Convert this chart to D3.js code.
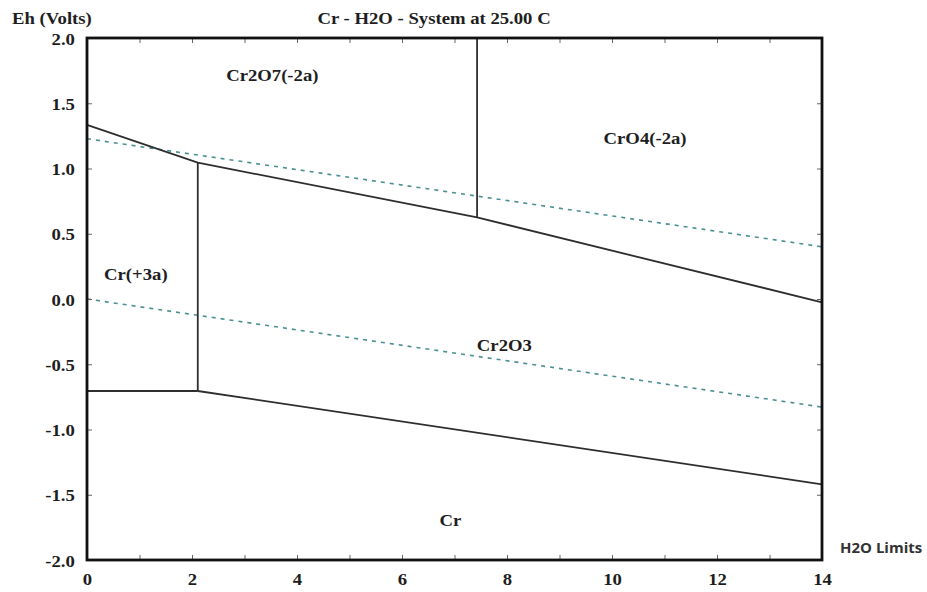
<!DOCTYPE html>
<html><head><meta charset="utf-8">
<script src="https://cdn.jsdelivr.net/npm/d3@7"></script>
<style>body{margin:0;background:#fff}svg{display:block}</style>
</head><body>
<svg id="c" width="927" height="592"></svg>
<script>
// ---- data (pH, Eh in volts) ----
const xTicks = [0,2,4,6,8,10,12,14];
const xMinorTicks = [1,3,5,7,9,11,13];
const yTicks = [2.0,1.5,1.0,0.5,0.0,-0.5,-1.0,-1.5,-2.0];
const upperBoundary = [[0,1.335],[2.11,1.045],[7.43,0.625],[14,-0.025]];
const lowerBoundary = [[2.11,-0.705],[14,-1.42]];
const cr3Bottom = [[0,-0.705],[2.11,-0.705]];
const cr3Right = [[2.11,1.045],[2.11,-0.705]];
const chromateDivider = [[7.43,0.625],[7.43,2.0]];
const waterO2 = [[0,1.228],[14,0.40]];
const waterH2 = [[0,0.0],[14,-0.828]];
const regionLabels = [
  {name:"Cr2O7(-2a)", pH:3.53, eh:1.72},
  {name:"CrO4(-2a)", pH:10.63, eh:1.23},
  {name:"Cr(+3a)", pH:0.93, eh:0.19},
  {name:"Cr2O3", pH:7.95, eh:-0.355},
  {name:"Cr", pH:6.92, eh:-1.69}
];
const title = "Cr - H2O - System at 25.00 C";
const yTitle = "Eh (Volts)";
const legendText = "H2O Limits";

// ---- layout ----
const svg = d3.select("#c");
const L=87, R=822, T=38, B=560;
const x = d3.scaleLinear().domain([0,14]).range([L,R]);
const y = d3.scaleLinear().domain([-2,2]).range([B,T]);
const serif = "'Liberation Serif','Times New Roman',serif";
const FS = 17, SX = 1.1;

const line = d3.line().x(d=>x(d[0])).y(d=>y(d[1]));

// water limits dashed
[waterO2, waterH2].forEach(d=>{
  svg.append("path").attr("d",line(d)).attr("fill","none")
    .attr("stroke","#4a8f94").attr("stroke-width",1.6).attr("stroke-dasharray","4,5");
});
// boundaries
[upperBoundary, lowerBoundary, cr3Bottom, cr3Right, chromateDivider].forEach(d=>{
  svg.append("path").attr("d",line(d)).attr("fill","none")
    .attr("stroke","#2e2e2e").attr("stroke-width",1.8);
});

// axes (ticks inward)
const fmtY = d => d3.format(".1f")(d).replace("\u2212","-");
const allX = xTicks.concat(xMinorTicks).sort((a,b)=>a-b);
const axB = d3.axisBottom(x).tickValues(allX).tickSize(-5).tickFormat(d=> xTicks.includes(d)? d:"" ).tickPadding(11);
const axT = d3.axisTop(x).tickValues(allX).tickSize(-5).tickFormat("");
const axL = d3.axisLeft(y).tickValues(yTicks).tickSize(-5).tickFormat(fmtY).tickPadding(11);
const axR = d3.axisRight(y).tickValues(yTicks).tickSize(-5).tickFormat("");

const gB = svg.append("g").attr("transform",`translate(0,${B})`).call(axB);
const gT = svg.append("g").attr("transform",`translate(0,${T})`).call(axT);
const gL = svg.append("g").attr("transform",`translate(${L},0)`).call(axL);
const gR = svg.append("g").attr("transform",`translate(${R},0)`).call(axR);
[gB,gT,gL,gR].forEach(g=>{
  g.select(".domain").remove();
  g.selectAll(".tick line").attr("stroke","#666").attr("stroke-width",1);
  g.selectAll("text").attr("font-family",serif).attr("font-weight","bold")
    .attr("font-size",FS).attr("fill","#1e1e1e").attr("transform",`scale(${SX},1)`);
});
gB.selectAll("text").attr("dy","0.85em");
gL.selectAll("text").attr("dy","0.36em");
// frame
svg.append("rect").attr("x",L).attr("y",T).attr("width",R-L).attr("height",B-T)
  .attr("fill","none").attr("stroke","#111").attr("stroke-width",2.8);

function stext(px,py,str,anchor,fam,size,fill){
  return svg.append("text").attr("transform",`translate(${px},${py}) scale(${SX},1)`)
    .attr("text-anchor",anchor).attr("font-family",fam).attr("font-weight","bold")
    .attr("font-size",size).attr("fill",fill).text(str);
}
// region labels
regionLabels.forEach(d=>{
  stext(x(d.pH), y(d.eh), d.name, "middle", serif, FS, "#1e1e1e").attr("dy","0.35em");
});

// titles
stext(434, 24, title, "middle", serif, FS, "#1e1e1e");
stext(12, 24, yTitle, "start", serif, FS, "#1e1e1e");
svg.append("text").attr("x",840).attr("y",553)
  .attr("font-family","'Open Sans','DejaVu Sans',sans-serif").attr("font-weight","bold").attr("font-size",15).attr("fill","#333").text(legendText);
</script>
</body></html>
